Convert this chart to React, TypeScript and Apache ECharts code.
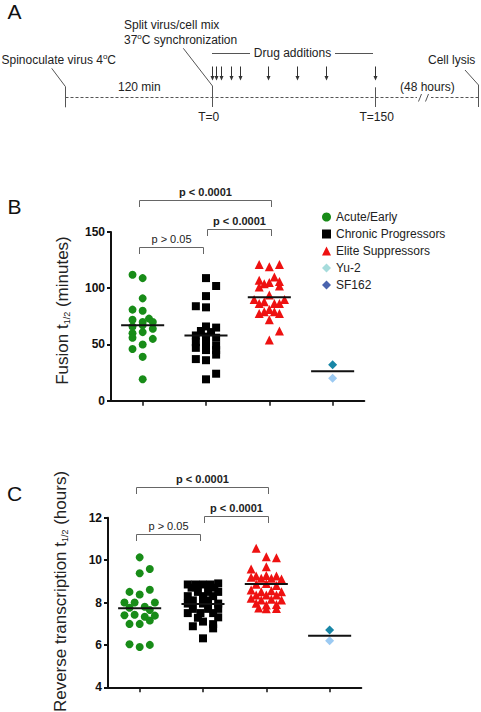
import React, { useEffect, useRef } from "react";
import * as echarts from "echarts";

const FONT = '"Liberation Sans", Arial, Helvetica, sans-serif';

// ---------- Legend / groups ----------
const groupNames = ["Acute/Early", "Chronic Progressors", "Elite Suppressors", "Yu-2", "SF162"];
const groupCategory = [1, 2, 3, 4, 4];

// ---------- Panel B: Fusion t1/2 (minutes); pairs = [jitter, value] ----------
const fusionAcute = [
  [-0.16, 112], [0, 109], [0, 91], [-0.16, 81], [0, 80], [-0.16, 72], [0, 70], [0.1, 73], [0.16, 70],
  [-0.16, 66], [0, 67], [0.16, 64], [-0.16, 60], [0, 61], [-0.16, 56], [0.16, 55], [-0.16, 46],
  [0, 50], [0, 39], [0, 19],
];
const fusionChronic = [
  [0, 109], [0.16, 102], [0, 93], [-0.16, 84], [0, 83], [0, 66], [0.16, 65], [-0.08, 62], [0.08, 61],
  [-0.16, 58], [0, 57], [0.16, 56], [-0.16, 52], [0, 51], [0.16, 49], [-0.16, 47], [0, 45], [0.16, 45],
  [-0.16, 37], [0, 36], [0.16, 41], [0, 19], [0.16, 24],
];
const fusionElite = [
  [-0.16, 121], [0, 119], [0.16, 121], [0.08, 110], [-0.16, 107], [0, 105], [0.16, 106], [-0.08, 104],
  [-0.16, 101], [0.16, 102], [0, 94], [-0.24, 90], [0.24, 90], [-0.16, 86.5], [-0.08, 88], [0.08, 86.5],
  [0.16, 86.5], [0, 81], [-0.16, 77.5], [-0.08, 79], [0.08, 79], [0.16, 77.5], [0, 72], [0.16, 62], [0, 54],
];
const fusionYu2 = [[0, 20]];
const fusionSF162 = [[0, 32]];
const fusionMedians = [67, 58, 92, 26.2];
const fusionTicks = { min: 0, max: 150, interval: 50 };

// ---------- Panel C: Reverse transcription t1/2 (hours) ----------
const rtAcute = [
  [0, 10.13], [0, 9.38], [0.16, 9.58], [-0.16, 8.5], [0, 8.38], [0.16, 8.6], [-0.24, 8.0], [-0.08, 8.0],
  [0.24, 8.0], [-0.16, 7.75], [0.08, 7.8], [0.16, 7.65], [-0.24, 7.4], [-0.08, 7.42], [0.08, 7.33],
  [0.24, 7.38], [-0.16, 6.99], [0, 6.99], [0.16, 7.15], [-0.16, 6.03], [0, 5.9], [0.16, 6.0],
];
const rtChronic = [
  [-0.24, 8.85], [-0.12, 8.85], [0, 8.85], [0.12, 8.85], [0.24, 8.9], [-0.18, 8.7], [0.18, 8.7],
  [-0.08, 8.5], [0.08, 8.5], [0.24, 8.5], [-0.24, 8.3], [0, 8.3], [0.16, 8.3], [-0.16, 8.1], [0.08, 8.1],
  [-0.24, 7.95], [0, 7.95], [0.24, 7.95], [-0.16, 7.7], [0.08, 7.7], [0.24, 7.7], [-0.24, 7.5],
  [-0.04, 7.5], [0.16, 7.5], [-0.08, 7.28], [0.24, 7.3], [0.16, 6.98], [-0.16, 6.88], [0.16, 6.78],
  [0, 7.1], [0, 6.31],
];
const rtElite = [
  [-0.16, 10.56], [0, 10.16], [0.16, 10.11], [0, 9.69], [-0.24, 9.58], [-0.24, 9.19], [-0.16, 9.25],
  [-0.08, 9.14], [0, 9.27], [0.08, 9.14], [0.16, 9.25], [0.24, 9.11], [-0.16, 8.86], [0, 8.9], [0.16, 8.8],
  [-0.24, 8.59], [-0.08, 8.51], [0.08, 8.55], [0.24, 8.51], [-0.16, 8.35], [0, 8.35], [0.16, 8.35],
  [-0.24, 8.2], [-0.08, 8.12], [0.08, 8.15], [0.24, 8.12], [-0.16, 7.96], [0, 7.88], [0.16, 7.9],
  [-0.12, 7.74], [0, 7.7], [0.16, 7.72],
];
const rtYu2 = [[0, 6.2]];
const rtSF162 = [[0, 6.7]];
const rtMedians = [7.73, 7.93, 8.87, 6.43];
const rtTicks = { min: 4, max: 12, interval: 2 };

// ---------- Significance brackets (category units / data units) ----------
const bracketLabels = ["p < 0.0001", "p < 0.0001", "p > 0.05"];
const bracketBold = [true, true, false];
const bracketFrom = [0.94, 2.02, 0.94];
const bracketTo = [3.02, 3.02, 1.95];
const bracketLevelB = [178.2, 153.1, 136.8];
const bracketLevelC = [13.43, 12.08, 11.23];

// ---------- Panel A schematic: drug addition arrows (px along timeline) ----------
const drugArrowX = [211.7, 216.3, 221, 230.7, 240, 268.3, 296.7, 325.7, 375.3];

const groupStyle = [
  { symbol: "circle", size: 8, color: "#188c18" },
  { symbol: "rect", size: 8, color: "#000000" },
  { symbol: "triangle", size: 9, color: "#ee1111" },
  { symbol: "diamond", size: 9, color: "#a6dcdc", pointColor: "#9ccaf2" },
  { symbol: "diamond", size: 9, color: "#4a64ae", pointColor: "#1886a6" },
];

function medianRender(params: any, api: any) {
  const x = api.value(0);
  const y = api.value(1);
  const p1 = api.coord([x - 0.34, y]);
  const p2 = api.coord([x + 0.34, y]);
  return {
    type: "line",
    shape: { x1: p1[0], y1: p1[1], x2: p2[0], y2: p2[1] },
    style: { stroke: "#111", lineWidth: 2 },
  };
}

function bracketRender(params: any, api: any) {
  const i = params.dataIndex;
  const lvl = api.value(2);
  const a = api.coord([api.value(0), lvl]);
  const b = api.coord([api.value(1), lvl]);
  const drop = 6.5;
  const ax = Math.round(a[0]) + 0.5;
  const bx = Math.round(b[0]) + 0.5;
  const y = Math.round(a[1]) + 0.5;
  return {
    type: "group",
    children: [
      {
        type: "polyline",
        shape: { points: [[ax, y + drop], [ax, y], [bx, y], [bx, y + drop]] },
        style: { stroke: "#666", lineWidth: 1, fill: "none" },
      },
      {
        type: "text",
        x: (ax + bx) / 2,
        y: y - 8.5,
        style: {
          text: bracketLabels[i],
          fontSize: 11,
          fontWeight: bracketBold[i] ? "bold" : "normal",
          fontFamily: FONT,
          fill: "#222",
          align: "center",
          verticalAlign: "middle",
        },
      },
    ],
  };
}

function buildPanelSeries(panel: number, groups: number[][][], medians: number[], levels: number[]) {
  const series: any[] = [];
  groups.forEach((pts, g) => {
    const st = groupStyle[g];
    const cat = groupCategory[g];
    series.push({
      type: "scatter",
      name: groupNames[g],
      xAxisIndex: panel,
      yAxisIndex: panel,
      symbol: st.symbol,
      symbolSize: st.size,
      itemStyle: { color: st.color, opacity: 1 },
      emphasis: { disabled: true },
      data: pts.map(([j, v]) =>
        st.pointColor
          ? { value: [cat + j, v], itemStyle: { color: st.pointColor } }
          : [cat + j, v]
      ),
      z: 2,
    });
  });
  series.push({
    type: "custom",
    xAxisIndex: panel,
    yAxisIndex: panel,
    renderItem: medianRender,
    data: medians.map((m, i) => [i + 1, m]),
    z: 5,
    silent: true,
  });
  series.push({
    type: "custom",
    xAxisIndex: panel,
    yAxisIndex: panel,
    renderItem: bracketRender,
    clip: false,
    data: bracketFrom.map((f, i) => [f, bracketTo[i], levels[i]]),
    z: 5,
    silent: true,
  });
  return series;
}

function axisPair(gridIndex: number, ticks: { min: number; max: number; interval: number }) {
  const x = {
    type: "value",
    gridIndex,
    min: 0.5,
    max: 4.5,
    axisLine: { show: true, onZero: false, lineStyle: { color: "#111", width: 2 } },
    axisTick: { show: true, customValues: [1, 2, 3, 4], length: 5, lineStyle: { color: "#111", width: 1.5 } },
    axisLabel: { show: false },
    splitLine: { show: false },
  };
  const y = {
    type: "value",
    gridIndex,
    min: ticks.min,
    max: ticks.max,
    interval: ticks.interval,
    axisLine: { show: true, onZero: false, lineStyle: { color: "#111", width: 2 } },
    axisTick: { show: true, length: 4, lineStyle: { color: "#111", width: 2 } },
    axisLabel: { fontSize: 12, fontWeight: "bold", fontFamily: FONT, color: "#111", margin: 6 },
    splitLine: { show: false },
  };
  return { x, y };
}

function txt(x: number, y: number, text: string, opts: any = {}) {
  return {
    type: "text",
    x,
    y,
    silent: true,
    style: {
      text,
      fontSize: 12,
      fontFamily: FONT,
      fill: "#222",
      align: opts.align || "left",
      verticalAlign: "middle",
      rich: { sup: { fontSize: 8, fontFamily: FONT, fill: "#222", padding: [0, 0, 7, 0] } },
      ...(opts.style || {}),
    },
  };
}

function gline(points: number[][], extra: any = {}) {
  return {
    type: "polyline",
    silent: true,
    shape: { points },
    style: { stroke: "#555", lineWidth: 1, fill: "none", ...extra },
  };
}

function panelAGraphics() {
  const els: any[] = [];
  els.push(txt(14.5, 11, "A", { align: "center", style: { fontSize: 21, fill: "#111" } }));
  els.push(txt(14.5, 206, "B", { align: "center", style: { fontSize: 21, fill: "#111" } }));
  els.push(txt(14.5, 493, "C", { align: "center", style: { fontSize: 21, fill: "#111" } }));

  // timeline
  els.push(gline([[65.5, 97.5], [478, 97.5]], { lineDash: [3, 2] }));
  els.push({ type: "rect", silent: true, shape: { x: 417, y: 92, width: 14, height: 11 }, style: { fill: "#fff" } });
  els.push(gline([[418.5, 101.5], [421.5, 94]]));
  els.push(gline([[425.5, 101.5], [428.5, 94]]));

  els.push(gline([[51.7, 68.3], [65.5, 86.7], [65.5, 107.3]]));
  els.push(gline([[183.3, 48.3], [212.5, 86], [212.5, 107]]));
  els.push(gline([[375.5, 87.3], [375.5, 107]]));
  els.push(gline([[465, 70], [478.5, 85], [478.5, 107]]));

  // drug additions
  els.push(gline([[212, 53.5], [250, 53.5]]));
  els.push(gline([[335, 53.5], [373, 53.5]]));
  drugArrowX.forEach((x) => {
    const xx = Math.round(x) + 0.5;
    els.push(gline([[xx, 66.5], [xx, 77]], { stroke: "#333" }));
    els.push({
      type: "polygon",
      silent: true,
      shape: { points: [[xx - 2, 76], [xx + 2, 76], [xx, 80.5]] },
      style: { fill: "#333" },
    });
  });

  els.push(txt(1.5, 60, "Spinoculate virus 4{sup|o}C"));
  els.push(txt(124, 25, "Split virus/cell mix"));
  els.push(txt(124, 40, "37{sup|o}C synchronization"));
  els.push(txt(292.5, 53, "Drug additions", { align: "center" }));
  els.push(txt(428, 60, "Cell lysis"));
  els.push(txt(118, 87.3, "120 min"));
  els.push(txt(400, 87.3, "(48 hours)"));
  els.push(txt(208.7, 117.3, "T=0", { align: "center" }));
  els.push(txt(376.7, 117.3, "T=150", { align: "center" }));

  // y-axis titles
  const yTitle = (x: number, y: number, a: string, b: string) => ({
    type: "text",
    x,
    y,
    rotation: Math.PI / 2,
    silent: true,
    style: {
      text: `${a}{sub|1/2}${b}`,
      fontSize: 17,
      fontFamily: FONT,
      fill: "#222",
      align: "center",
      verticalAlign: "middle",
      rich: { sub: { fontSize: 9, fontFamily: FONT, fill: "#222", padding: [9, 0, 0, 0] } },
    },
  });
  els.push(yTitle(62, 310.5, "Fusion t", " (minutes)"));
  els.push(yTitle(60, 591.5, "Reverse transcription t", " (hours)"));
  return els;
}

export default function App() {
  const ref = useRef<HTMLDivElement>(null);
  useEffect(() => {
    if (!ref.current) return;
    const chart = echarts.init(ref.current, undefined, { renderer: "svg" });
    const bAxes = axisPair(0, fusionTicks);
    const cAxes = axisPair(1, rtTicks);
    const option: any = {
      animation: false,
      backgroundColor: "#ffffff",
      textStyle: { fontFamily: FONT },
      grid: [
        { left: 111, top: 232, width: 253.3, height: 168.7, containLabel: false, outerBoundsMode: "none" },
        { left: 108, top: 517.7, width: 253.3, height: 169.6, containLabel: false, outerBoundsMode: "none" },
      ],
      xAxis: [bAxes.x, cAxes.x],
      yAxis: [bAxes.y, cAxes.y],
      legend: {
        data: groupNames,
        orient: "vertical",
        left: 317,
        top: 206,
        itemWidth: 9,
        itemHeight: 9,
        itemGap: 5,
        selectedMode: false,
        textStyle: { fontSize: 12, fontFamily: FONT, color: "#222" },
      },
      graphic: panelAGraphics(),
      series: [
        ...buildPanelSeries(0, [fusionAcute, fusionChronic, fusionElite, fusionYu2, fusionSF162], fusionMedians, bracketLevelB),
        ...buildPanelSeries(1, [rtAcute, rtChronic, rtElite, rtYu2, rtSF162], rtMedians, bracketLevelC),
      ],
    };
    chart.setOption(option);
    return () => chart.dispose();
  }, []);
  return (
    <div
      ref={ref}
      style={{ position: "absolute", left: 0, top: 0, width: 481, height: 712, background: "#fff" }}
    />
  );
}
